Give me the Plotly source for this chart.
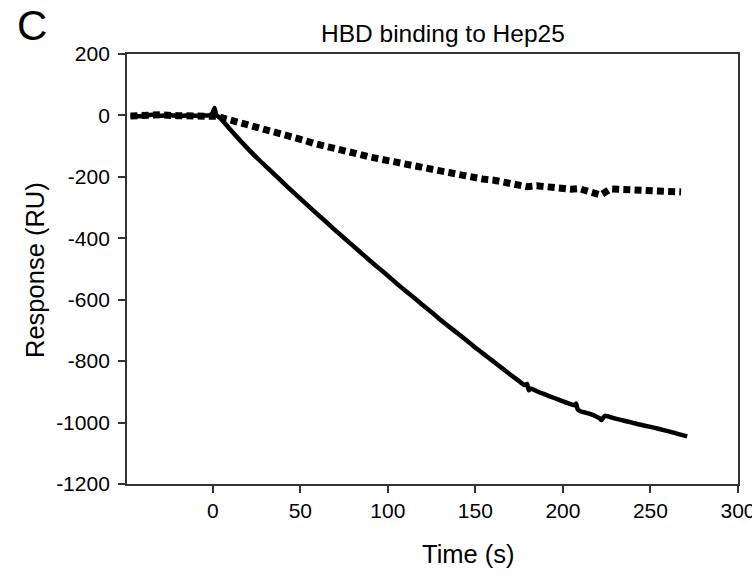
import plotly.graph_objects as go

# Solid series (HBD binding) – time (s) and response (RU)
solid_t = [-47, -40, -35, -30, -25, -20, -15, -10, -5, -1, 0, 1, 2, 3, 5, 10, 15, 20, 25, 30, 35,
           40, 45, 50, 55, 60, 65, 70, 75, 80, 85, 90, 95, 100, 105, 110, 115, 120, 125, 130,
           135, 140, 145, 150, 155, 160, 165, 170, 175, 178, 179.5, 180.5, 181.5, 185,
           190, 195, 200, 205, 206.5, 207.5, 208.5, 210, 215, 219, 221, 222, 223, 224, 230,
           235, 240, 245, 250, 255, 260, 265, 271]
solid_v = [-3, -2, 2, -1, 1, -2, 0, -1, 0, 0, 10, 24, 2, -3, -13, -46, -78, -108, -137, -164, -191,
           -218, -245, -271, -297, -323, -348, -374, -399, -424, -449, -474, -498, -522, -547, -571,
           -594, -618, -641, -665, -688, -710, -733, -756, -778, -800, -822, -844, -865, -878,
           -874, -895, -889, -898,
           -909, -920, -931, -941, -944, -938, -958, -963, -971, -980, -986, -992, -984, -978, -987,
           -994, -1001, -1008, -1014, -1021, -1028, -1036, -1045]

# Dotted series (reference) – time (s) and response (RU)
dot_t = [-47, -40, -30, -20, -10, 0, 3, 7.4, 13.3, 19.8, 26.5, 32.6, 39.3, 45.3, 51.6, 58.3, 64.6,
         71, 77.5, 84, 90.3, 96.6, 103, 109.3, 115.8, 122, 128.4, 134.9, 141.3, 147.6, 154,
         160.6, 167, 173, 179.4, 185, 191.4, 198, 204.4, 209, 215.3, 221.5, 227.3, 233.7,
         240.2, 246.5, 252.7, 259.3, 267.5]
dot_v = [-2, 0, 2, -1, 0, 0, -3, -11, -20, -30, -40, -48, -56, -65, -80, -92, -102,
         -111, -119, -127, -136, -144, -151, -158, -167, -173, -179, -186, -194, -200, -207,
         -211, -217, -223, -232, -229, -234, -237, -240, -238, -249, -259, -239, -239,
         -242, -244, -246, -247, -249]

x_ticks = [0, 50, 100, 150, 200, 250, 300]
y_ticks = [200, 0, -200, -400, -600, -800, -1000, -1200]

FONT = "Liberation Sans, Arial, sans-serif"

fig = go.Figure()
fig.add_trace(go.Scatter(x=dot_t, y=dot_v, mode="lines",
                         line=dict(color="black", width=7, dash="7px,4.2px"),
                         showlegend=False, hoverinfo="skip"))
fig.add_trace(go.Scatter(x=solid_t, y=solid_v, mode="lines",
                         line=dict(color="black", width=4.5, shape="spline", smoothing=0.5),
                         showlegend=False, hoverinfo="skip"))

L, R, T, B = 127, 738, 54, 484
W, H = 752, 581


def px(x):
    return (x - L) / (R - L)


def py(y):
    return (B - y) / (B - T)


axis_common = dict(ticks="outside", ticklen=7, tickwidth=1.5, tickcolor="#333",
                   showline=True, linecolor="#333", linewidth=1.5, mirror=True,
                   showgrid=False, zeroline=False, ticklabeloverflow="allow",
                   automargin=False,
                   tickfont=dict(size=21, family=FONT, color="black"))

fig.update_layout(
    width=W, height=H,
    margin=dict(l=L, r=W - R, t=T, b=H - B, autoexpand=False),
    paper_bgcolor="white", plot_bgcolor="white",
    font=dict(family=FONT, color="black", size=21),
    xaxis=dict(range=[-49, 300], tickvals=x_ticks, ticktext=[str(v) for v in x_ticks],
               **axis_common),
    yaxis=dict(range=[-1200, 200], tickvals=y_ticks,
               ticktext=[str(v) + "\u2009" for v in y_ticks], **axis_common),
    annotations=[
        dict(text="HBD binding to Hep25", x=px(443), y=py(33), xref="paper", yref="paper",
             showarrow=False, xanchor="center", yanchor="middle", font=dict(size=24.5, family=FONT)),
        dict(text="Time (s)", x=px(468), y=py(554), xref="paper", yref="paper",
             showarrow=False, xanchor="center", yanchor="middle", font=dict(size=25.5, family=FONT)),
        dict(text="Response (RU)", x=px(35), y=py(270), xref="paper", yref="paper", textangle=-90,
             showarrow=False, xanchor="center", yanchor="middle", font=dict(size=25.5, family=FONT)),
        dict(text="C", x=px(32), y=py(26), xref="paper", yref="paper",
             showarrow=False, xanchor="center", yanchor="middle", font=dict(size=42, family=FONT)),
    ],
)

fig.write_html("out.html")
